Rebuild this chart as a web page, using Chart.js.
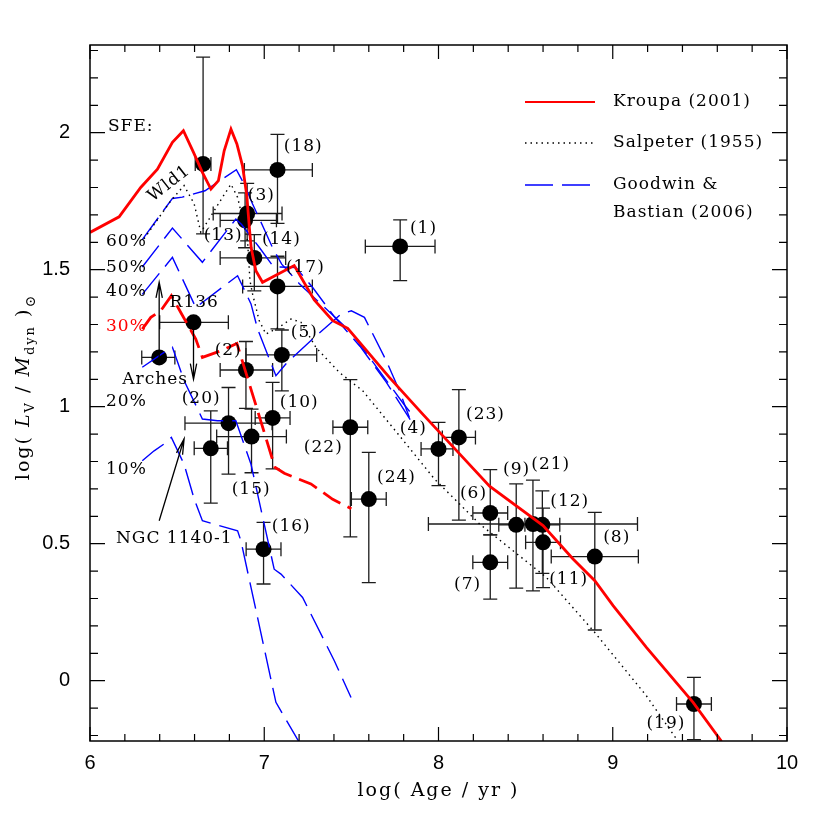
<!DOCTYPE html>
<html>
<head>
<meta charset="utf-8">
<script src="https://cdn.jsdelivr.net/npm/chart.js@4.4.1/dist/chart.umd.min.js"></script>
<style>
  html, body { margin: 0; padding: 0; background: #fff; }
  #wrap { width: 830px; height: 830px; }
</style>
</head>
<body>
<div id="wrap"><canvas id="mlChart" width="830" height="830"></canvas></div>
<script>
// clusters: log age, log(L_V/M_dyn) and their error bars
const clusterAge = [7.78, 7.076, 6.649, 6.902, 6.89, 6.943, 7.076, 6.594, 6.397, 6.895, 7.101, 7.048, 6.795, 6.927, 6.693, 6.996, 7.494, 7.60, 8.0, 8.117, 8.297, 8.297, 8.446, 8.542, 8.596, 8.60, 8.897, 9.466];
const clusterLum = [1.585, 1.864, 1.886, 1.705, 1.68, 1.543, 1.439, 1.308, 1.18, 1.134, 1.189, 0.959, 0.94, 0.891, 0.848, 0.48, 0.925, 0.663, 0.846, 0.888, 0.612, 0.432, 0.569, 0.572, 0.569, 0.505, 0.453, -0.085];
const ageErrLo = [0.2, 0.19, 0.045, 0.195, 0.143, 0.196, 0.2, 0.194, 0.1, 0.148, 0.206, 0.1, 0.25, 0.2, 0.095, 0.1, 0.1, 0.1, 0.1, 0.095, 0.1, 0.1, 0.1, 0.6, 0.1, 0.1, 0.25, 0.1];
const ageErrHi = [0.2, 0.2, 0.045, 0.2, 0.18, 0.18, 0.2, 0.2, 0.09, 0.153, 0.2, 0.1, 0.25, 0.2, 0.096, 0.1, 0.1, 0.1, 0.083, 0.095, 0.1, 0.1, 0.1, 0.6, 0.1, 0.1, 0.25, 0.1];
const lumErrLo = [0.125, 0.195, 0.255, 0.1, 0.1, 0.12, 0.155, 0, 0, 0.14, 0.131, 0.186, 0.186, 0.132, 0.2, 0.127, 0.4, 0.305, 0.134, 0.302, 0.08, 0.134, 0.231, 0.244, 0.177, 0.165, 0.268, 0.13];
const lumErrHi = [0.097, 0.13, 0.39, 0.11, 0.1, 0.085, 0.11, 0, 0, 0.104, 0.091, 0.13, 0.13, 0.1, 0.137, 0.098, 0.174, 0.17, 0.097, 0.174, 0.158, 0.1, 0.149, 0.16, 0.124, 0.125, 0.161, 0.097];

// model tracks
const kroupaAge = [6.0, 6.167, 6.291, 6.387, 6.473, 6.536, 6.594, 6.645, 6.694, 6.737, 6.770, 6.809, 6.843, 6.875, 6.90, 6.915, 6.925, 6.952, 6.99, 7.172, 7.287, 7.393, 7.479, 7.718, 7.908, 8.121, 8.293, 8.6, 8.772, 8.897, 9.002, 9.193, 9.461, 9.624];
const kroupaLum = [1.636, 1.693, 1.80, 1.867, 1.965, 2.007, 1.928, 1.855, 1.794, 1.825, 1.934, 2.013, 1.959, 1.88, 1.77, 1.65, 1.58, 1.496, 1.454, 1.515, 1.39, 1.314, 1.286, 1.107, 0.974, 0.828, 0.71, 0.566, 0.444, 0.365, 0.274, 0.122, -0.079, -0.221];
const salpeterAge = [6.31, 6.464, 6.54, 6.598, 6.636, 6.76, 6.809, 6.847, 6.881, 6.904, 6.918, 6.933, 6.971, 7.01, 7.086, 7.153, 7.211, 7.297, 7.431, 7.565, 7.776, 7.977, 8.236, 8.619, 8.897, 9.193, 9.366];
const salpeterLum = [1.613, 1.752, 1.807, 1.74, 1.636, 1.764, 1.812, 1.764, 1.673, 1.606, 1.46, 1.411, 1.314, 1.265, 1.29, 1.32, 1.308, 1.216, 1.125, 1.058, 0.894, 0.736, 0.572, 0.377, 0.176, -0.055, -0.213];
const sfe60Age = [6.30, 6.473, 6.53, 6.66, 6.84, 6.885, 6.933, 6.99, 7.048, 7.10, 7.20, 7.35, 7.50, 7.65, 7.80, 7.85];
const sfe60Lum = [1.61, 1.76, 1.765, 1.788, 1.865, 1.812, 1.74, 1.661, 1.58, 1.52, 1.45, 1.36, 1.27, 1.14, 1.01, 0.97];
const sfe50Age = [6.30, 6.473, 6.645, 6.837, 6.87, 6.971, 7.048, 7.08, 7.182, 7.278, 7.40, 7.55, 7.70, 7.84];
const sfe50Lum = [1.51, 1.652, 1.527, 1.685, 1.665, 1.582, 1.515, 1.51, 1.508, 1.435, 1.33, 1.22, 1.09, 0.95];
const sfe40Age = [6.30, 6.473, 6.607, 6.847, 6.924, 6.962, 7.067, 7.124, 7.287, 7.44, 7.50, 7.575, 7.70, 7.776, 7.833];
const sfe40Lum = [1.41, 1.545, 1.362, 1.478, 1.375, 1.283, 1.113, 1.156, 1.253, 1.338, 1.35, 1.326, 1.168, 1.058, 0.961];
const sfe30Age = [6.30, 6.349, 6.406, 6.467, 6.521, 6.607, 6.645, 6.751, 6.843, 6.962, 7.061, 7.115, 7.268, 7.393, 7.50];
const sfe30Lum = [1.283, 1.326, 1.35, 1.405, 1.344, 1.247, 1.18, 1.204, 1.231, 0.985, 0.779, 0.757, 0.718, 0.662, 0.628];
const sfe20Age = [6.30, 6.425, 6.473, 6.54, 6.645, 6.732, 6.837, 6.924, 7.057, 7.096, 7.22, 7.402, 7.498];
const sfe20Lum = [1.144, 1.198, 1.217, 1.095, 0.955, 0.949, 0.949, 0.79, 0.407, 0.389, 0.304, 0.073, -0.061];
const sfe10Age = [6.30, 6.368, 6.425, 6.467, 6.54, 6.598, 6.645, 6.847, 6.866, 7.067, 7.201];
const sfe10Lum = [0.803, 0.839, 0.864, 0.888, 0.79, 0.663, 0.584, 0.547, 0.511, -0.079, -0.225];

const xTickValues = [6, 7, 8, 9, 10];
const yTickValues = [0, 0.5, 1, 1.5, 2];

// text annotations [text, age, lum]
const notes = [
  ['(1)', 7.914, 1.650], ['(18)', 7.224, 1.949], ['(3)', 6.983, 1.770], ['(13)', 6.764, 1.624],
  ['(14)', 7.098, 1.609], ['(17)', 7.236, 1.507], ['(5)', 7.230, 1.270], ['(2)', 6.793, 1.204],
  ['(20)', 6.638, 1.029], ['(10)', 7.201, 1.015], ['(15)', 6.925, 0.697], ['(16)', 7.155, 0.562],
  ['(22)', 7.339, 0.850], ['(24)', 7.759, 0.741], ['(4)', 7.856, 0.920], ['(23)', 8.270, 0.971],
  ['(6)', 8.201, 0.682], ['(9)', 8.448, 0.770], ['(21)', 8.644, 0.788], ['(12)', 8.753, 0.653],
  ['(8)', 9.023, 0.522], ['(7)', 8.167, 0.350], ['(11)', 8.747, 0.369], ['(19)', 9.305, -0.157],
  ['R136', 6.598, 1.380], ['Arches', 6.374, 1.099]
];
const leftNotes = [
  ['SFE:', 6.103, 2.022, 'black'], ['60%', 6.092, 1.602, 'black'], ['50%', 6.092, 1.507, 'black'],
  ['40%', 6.092, 1.420, 'black'], ['30%', 6.092, 1.292, 'red'], ['20%', 6.092, 1.018, 'black'],
  ['10%', 6.092, 0.770, 'black'], ['NGC 1140-1', 6.149, 0.518, 'black']
];
// limits: [fromAge, fromLum, toAge, toLum]
const limitArrows = [
  [6.397, 1.18, 6.397, 1.454],
  [6.594, 1.308, 6.594, 1.10],
  [6.397, 0.584, 6.54, 0.883]
];

const pts = (xs, ys) => xs.map((v, i) => ({ x: v, y: ys[i] }));
const SERIF = "'DejaVu Serif', serif";

function track(label, xs, ys, color, width, dash) {
  return {
    type: 'line', label, data: pts(xs, ys), borderColor: color, borderWidth: width,
    borderDash: dash, pointRadius: 0, fill: false, tension: 0, showLine: true
  };
}

const framePlugin = {
  id: 'frame',
  beforeDatasetsDraw(chart) {
    const { ctx, scales: { x, y } } = chart;
    ctx.save();
    // error bars
    ctx.strokeStyle = '#1c1c1c';
    ctx.lineWidth = 1.3;
    const cap = 7;
    for (let i = 0; i < clusterAge.length; i++) {
      const px = x.getPixelForValue(clusterAge[i]);
      const py = y.getPixelForValue(clusterLum[i]);
      ctx.beginPath();
      if (ageErrLo[i] || ageErrHi[i]) {
        const x0 = x.getPixelForValue(clusterAge[i] - ageErrLo[i]);
        const x1 = x.getPixelForValue(clusterAge[i] + ageErrHi[i]);
        ctx.moveTo(x0, py); ctx.lineTo(x1, py);
        ctx.moveTo(x0, py - cap); ctx.lineTo(x0, py + cap);
        ctx.moveTo(x1, py - cap); ctx.lineTo(x1, py + cap);
      }
      if (lumErrLo[i] || lumErrHi[i]) {
        const y0 = y.getPixelForValue(clusterLum[i] - lumErrLo[i]);
        const y1 = y.getPixelForValue(clusterLum[i] + lumErrHi[i]);
        ctx.moveTo(px, y0); ctx.lineTo(px, y1);
        ctx.moveTo(px - cap, y0); ctx.lineTo(px + cap, y0);
        ctx.moveTo(px - cap, y1); ctx.lineTo(px + cap, y1);
      }
      ctx.stroke();
    }
    ctx.restore();
  },
  afterDraw(chart) {
    const { ctx, chartArea: a, scales: { x, y } } = chart;
    ctx.save();
    // frame and inward ticks
    ctx.strokeStyle = '#000';
    ctx.lineWidth = 1.5;
    ctx.strokeRect(a.left, a.top, a.right - a.left, a.bottom - a.top);
    ctx.lineWidth = 1.2;
    ctx.beginPath();
    for (let k = 0; k <= 20; k++) {
      const px = x.getPixelForValue(6 + k * 0.2);
      const len = k % 5 === 0 ? 14 : 7;
      ctx.moveTo(px, a.bottom); ctx.lineTo(px, a.bottom - len);
      ctx.moveTo(px, a.top); ctx.lineTo(px, a.top + len);
    }
    for (let k = -2; k <= 23; k++) {
      const py = y.getPixelForValue(k / 10);
      const len = k % 5 === 0 ? 15 : 8;
      ctx.moveTo(a.left, py); ctx.lineTo(a.left + len, py);
      ctx.moveTo(a.right, py); ctx.lineTo(a.right - len, py);
    }
    ctx.stroke();

    // annotations
    ctx.font = '17px ' + SERIF;
    ctx.letterSpacing = '1px';
    ctx.fillStyle = '#000';
    ctx.textBaseline = 'middle';
    ctx.textAlign = 'center';
    notes.forEach(([t, ax, ly]) => ctx.fillText(t, x.getPixelForValue(ax), y.getPixelForValue(ly)));
    ctx.textAlign = 'left';
    leftNotes.forEach(([t, ax, ly, c]) => {
      ctx.fillStyle = c;
      ctx.fillText(t, x.getPixelForValue(ax), y.getPixelForValue(ly));
    });
    ctx.fillStyle = '#000';
    ctx.save();
    ctx.translate(x.getPixelForValue(6.454), y.getPixelForValue(1.814));
    ctx.rotate(-38 * Math.PI / 180);
    ctx.textAlign = 'center';
    ctx.fillText('Wld1', 0, 0);
    ctx.restore();

    // limit arrows
    ctx.strokeStyle = '#000';
    ctx.lineWidth = 1.3;
    limitArrows.forEach(([ax0, l0, ax1, l1]) => {
      const x0 = x.getPixelForValue(ax0), y0 = y.getPixelForValue(l0);
      const x1 = x.getPixelForValue(ax1), y1 = y.getPixelForValue(l1);
      const ang = Math.atan2(y1 - y0, x1 - x0);
      ctx.beginPath();
      ctx.moveTo(x0, y0); ctx.lineTo(x1, y1);
      ctx.moveTo(x1 - 16 * Math.cos(ang - 0.2), y1 - 16 * Math.sin(ang - 0.2));
      ctx.lineTo(x1, y1);
      ctx.lineTo(x1 - 16 * Math.cos(ang + 0.2), y1 - 16 * Math.sin(ang + 0.2));
      ctx.stroke();
    });

    // legend
    const legendRows = [
      ['red', 2, [], 102, ['Kroupa (2001)']],
      ['#000', 1.4, [1.5, 4], 143, ['Salpeter (1955)']],
      ['#0000ff', 1.4, [28, 9], 185, ['Goodwin &', 'Bastian (2006)']]
    ];
    legendRows.forEach(([c, w, d, ly, lines]) => {
      ctx.strokeStyle = c; ctx.lineWidth = w; ctx.setLineDash(d);
      ctx.beginPath(); ctx.moveTo(525, ly); ctx.lineTo(595, ly); ctx.stroke();
      ctx.setLineDash([]);
      ctx.fillStyle = '#000';
      lines.forEach((t, j) => ctx.fillText(t, 613, ly + j * 28));
    });

    // axis titles
    ctx.font = '19px ' + SERIF;
    ctx.letterSpacing = '2px';
    ctx.textAlign = 'center';
    ctx.textBaseline = 'alphabetic';
    ctx.fillText('log( Age / yr )', (a.left + a.right) / 2, 796);

    const parts = [
      ['log( ', '19px ' + SERIF, 0], ['L', 'italic 19px ' + SERIF, 0], ['V', '13px ' + SERIF, 5],
      [' / ', '19px ' + SERIF, 0], ['M', 'italic 19px ' + SERIF, 0], ['dyn', '13px ' + SERIF, 5],
      [' )', '19px ' + SERIF, 0], ['\u2299', '14px ' + SERIF, 6]
    ];
    let total = 0;
    parts.forEach(([t, f]) => { ctx.font = f; total += ctx.measureText(t).width; });
    ctx.translate(29, 387);
    ctx.rotate(-Math.PI / 2);
    ctx.textAlign = 'left';
    let cx = -total / 2;
    parts.forEach(([t, f, dy]) => {
      ctx.font = f;
      ctx.fillText(t, cx, dy);
      cx += ctx.measureText(t).width;
    });
    ctx.restore();
  }
};

const chart = new Chart(document.getElementById('mlChart').getContext('2d'), {
  type: 'scatter',
  data: {
    datasets: [
      track('Kroupa (2001)', kroupaAge, kroupaLum, '#ff0000', 2.8, []),
      track('SFE 30%', sfe30Age, sfe30Lum, '#ff0000', 2.8, [20, 8]),
      track('Salpeter (1955)', salpeterAge, salpeterLum, '#000000', 1.4, [1.5, 4]),
      track('SFE 60%', sfe60Age, sfe60Lum, '#0000ff', 1.4, [27, 9]),
      track('SFE 50%', sfe50Age, sfe50Lum, '#0000ff', 1.4, [27, 9]),
      track('SFE 40%', sfe40Age, sfe40Lum, '#0000ff', 1.4, [27, 9]),
      track('SFE 20%', sfe20Age, sfe20Lum, '#0000ff', 1.4, [27, 9]),
      track('SFE 10%', sfe10Age, sfe10Lum, '#0000ff', 1.4, [27, 9]),
      {
        type: 'scatter', label: 'Clusters', data: pts(clusterAge, clusterLum),
        pointRadius: 8, pointHoverRadius: 8, backgroundColor: '#000', borderWidth: 0
      }
    ]
  },
  options: {
    responsive: false,
    animation: false,
    devicePixelRatio: 1,
    layout: { padding: { top: 45, right: 43, left: 0, bottom: 0 } },
    plugins: { legend: { display: false }, tooltip: { enabled: false } },
    scales: {
      x: {
        type: 'linear', min: 6, max: 10,
        afterBuildTicks: s => { s.ticks = xTickValues.map(v => ({ value: v })); },
        afterFit: s => { s.height = 89; },
        grid: { display: false }, border: { display: false },
        ticks: { color: '#000', padding: 2, font: { family: "'Liberation Sans', sans-serif", size: 20 }, callback: v => String(v) }
      },
      y: {
        type: 'linear', min: -0.22, max: 2.32,
        afterBuildTicks: s => { s.ticks = yTickValues.map(v => ({ value: v })); },
        afterFit: s => { s.width = 90; },
        grid: { display: false }, border: { display: false },
        ticks: { color: '#000', padding: 12, font: { family: "'Liberation Sans', sans-serif", size: 20 }, callback: v => String(v) }
      }
    }
  },
  plugins: [framePlugin]
});
</script>
</body>
</html>
